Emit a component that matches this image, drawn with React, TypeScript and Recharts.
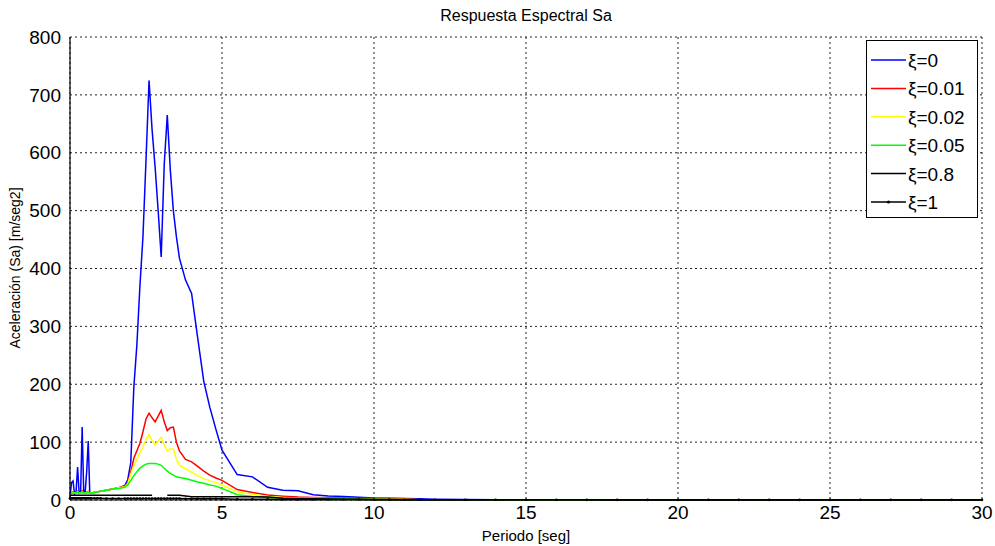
import React from 'react';
import { LineChart, Line, XAxis, YAxis, CartesianGrid, Legend } from 'recharts';

const periods = [0, 0.05, 0.1, 0.15, 0.2, 0.25, 0.3, 0.35, 0.4, 0.45, 0.5, 0.55, 0.6, 0.65, 0.7, 0.8, 0.9, 1.0, 1.2, 1.4, 1.6, 1.8, 1.9, 2.0, 2.1, 2.2, 2.3, 2.4, 2.5, 2.6, 2.7, 2.8, 2.9, 3.0, 3.1, 3.2, 3.3, 3.4, 3.5, 3.6, 3.8, 4.0, 4.2, 4.4, 4.6, 4.8, 5.0, 5.5, 6.0, 6.5, 7.0, 7.5, 8.0, 8.5, 9.0, 9.5, 10.0, 10.5, 11.0, 11.5, 12.0, 13, 14, 15, 16, 17, 18, 19, 20, 21, 22, 23, 24, 25, 26, 27, 28, 29, 30];

const sa0 = [5, 30, 33, 10, 14, 57, 12, 14, 126, 15, 14, 50, 102, 12, 12, 13, 14, 15, 17, 19, 21, 25, 35, 65, 195, 268, 370, 455, 587, 725, 640, 575, 500, 420, 580, 665, 570, 500, 455, 418, 380, 357, 280, 205, 160, 122, 86, 44, 40, 22, 17, 16, 9, 7, 6, 4.6, 3.5, 3, 2.5, 2, 1.5, 0.8, 0.6, 0.5, 0.4, 0.4, 0.3, 0.3, 0.3, 0.2, 0.2, 0.2, 0.2, 0.2, 0.1, 0.1, 0.1, 0.1, 0.1];
const sa001 = [8, 12, 14, 12, 13, 15, 12, 13, 16, 12, 12, 14, 15, 12, 12, 13, 14, 15, 17, 19, 21, 24, 30, 48, 72, 85, 98, 118, 140, 150, 142, 135, 145, 155, 135, 120, 125, 126, 100, 85, 70, 66, 58, 50, 43, 38, 34, 18, 13, 8.5, 6.5, 5, 4.5, 4, 3.5, 3, 3, 2.5, 2, 0.5, 0.3, 0.2, 0.2, 0.2, 0.1, 0.1, 0.1, 0.1, 0.1, 0.1, 0.1, 0.1, 0.1, 0.1, 0.1, 0.1, 0.1, 0.1, 0.1];
const sa002 = [8, 11, 13, 12, 12, 14, 12, 12, 14, 12, 12, 13, 14, 12, 12, 13, 14, 15, 17, 19, 21, 23, 28, 45, 60, 70, 82, 92, 105, 113, 103, 95, 102, 108, 95, 85, 88, 88, 70, 60, 54, 48, 42, 37, 33, 30, 26, 14, 10, 6, 4.5, 3.5, 3, 2.5, 2, 1.8, 1.5, 1.3, 1, 0.6, 0.4, 0.3, 0.2, 0.2, 0.1, 0.1, 0.1, 0.1, 0.1, 0.1, 0.1, 0.1, 0.1, 0.1, 0.1, 0.1, 0.1, 0.1, 0.1];
const sa005 = [10, 11, 12, 12, 12, 13, 12, 12, 13, 12, 12, 12, 13, 12, 12, 13, 14, 15, 17, 19, 20, 22, 26, 34, 42, 49, 55, 59, 62, 63, 63, 63, 62, 60, 55, 50, 46, 43, 40, 39, 37, 34, 31, 29, 26, 24, 20, 9, 6, 4.5, 3.5, 3, 2.5, 2, 2, 1.5, 1.2, 1, 0.8, 0.6, 0.4, 0.3, 0.2, 0.2, 0.1, 0.1, 0.1, 0.1, 0.1, 0.1, 0.1, 0.1, 0.1, 0.1, 0.1, 0.1, 0.1, 0.1, 0.1];
const sa08 = [8, 8, 8, 8, 8, 8, 8, 8, 8, 8, 8, 8, 8, 8, 8, 8, 8, 8, 8, 8, 8, 8, 8, 8, 8, 8, 8, 8, 8, 8, 8, null, null, null, null, 8, 8, 8, 8, 8, 7, 5.5, 5.5, 5.5, 5.5, 5.5, 5.5, 5.5, 5.5, 5, 3, 2.5, 2, 1.8, 1.5, 1.2, 1, 0.8, 0.6, 0.5, 0.5, 0.4, 0.4, 0.3, 0.3, 0.3, 0.2, 0.2, 0.2, 0.2, 0.2, 0.2, 0.2, 0.2, 0.2, 0.2, 0.2, 0.2, 0.2];
const sa1 = [3, 3, 3, 3, 3, 3, 3, 3, 3, 3, 3, 3, 3, 3, 3, 3, 3, 3, 2.5, 2.5, 2.5, 2.5, 2.5, 2.5, 2.5, 2.5, 2.5, 2.5, 2.5, 2.5, 2.5, 2.5, 2.5, 2.5, 2.5, 2.5, 2.5, 2.5, 2.5, 2.5, 2, 2, 2, 2, 2, 2, 2, 1.5, 1.5, 1.2, 1, 1, 1, 0.8, 0.8, 0.8, 0.6, 0.6, 0.5, 0.5, 0.5, 0.4, 0.4, 0.4, 0.3, 0.3, 0.3, 0.3, 0.3, 0.3, 0.3, 0.3, 0.3, 0.3, 0.3, 0.3, 0.3, 0.3, 0.3];

const seriesNames = ['ξ=0', 'ξ=0.01', 'ξ=0.02', 'ξ=0.05', 'ξ=0.8', 'ξ=1'];
const seriesColors = ['#0000FF', '#FF0000', '#FFFF00', '#00FF00', '#000000', '#000000'];
const seriesKeys = ['s0', 's001', 's002', 's005', 's08', 's1'];
const seriesValues = [sa0, sa001, sa002, sa005, sa08, sa1];

const xTicks = [0, 5, 10, 15, 20, 25, 30];
const yTicks = [0, 100, 200, 300, 400, 500, 600, 700, 800];

const data = periods.map((p, i) => {
  const row: any = { t: p };
  seriesKeys.forEach((k, j) => {
    row[k] = seriesValues[j][i];
  });
  return row;
});

const FONT = '"Liberation Sans", Arial, Helvetica, sans-serif';

const LegendBox = () => (
  <svg width={112} height={178} style={{ display: 'block' }}>
    <rect x={0.5} y={0.5} width={111} height={177} fill="#fff" stroke="#000" strokeWidth={1} />
    {seriesNames.map((n, i) => {
      const y = 20 + i * 28.4;
      return (
        <g key={n}>
          <line x1={5} x2={40} y1={y} y2={y} stroke={seriesColors[i]} strokeWidth={1.5} />
          {i === 5 && <circle cx={22.5} cy={y} r={1.6} fill="#000" />}
          <text x={42} y={y + 7} fontSize={19} fontFamily={FONT} fill="#000">{n}</text>
        </g>
      );
    })}
  </svg>
);

const YLabel = () => (
  <text x={20} y={268} transform="rotate(-90 20 268)" textAnchor="middle" fontSize={14} fontFamily={FONT} fill="#000">
    Aceleración (Sa) [m/seg2]
  </text>
);

export default function App() {
  return (
    <div style={{ position: 'absolute', left: 0, top: 0, width: 995, height: 546, background: '#fff', fontFamily: FONT }}>
      <div style={{ position: 'absolute', left: 70, top: 7, width: 912, textAlign: 'center', fontSize: 16, lineHeight: '18px', color: '#000' }}>
        Respuesta Espectral Sa
      </div>
      <LineChart width={995} height={546} data={data} margin={{ top: 37, right: 13, left: 0, bottom: 0 }}>
        <CartesianGrid stroke="#222" strokeDasharray="2 3" strokeWidth={1} />
        <XAxis
          dataKey="t"
          type="number"
          domain={[0, 30]}
          ticks={xTicks}
          height={46}
          axisLine={{ stroke: '#000', strokeWidth: 1.2 }}
          tickLine={false}
          tick={{ fill: '#000', fontSize: 19, fontFamily: FONT }}
          tickMargin={0}
          interval={0}
          label={{ value: 'Periodo [seg]', position: 'insideBottom', offset: 5, fontSize: 15, fill: '#000', fontFamily: FONT }}
        />
        <YAxis
          type="number"
          domain={[0, 800]}
          ticks={yTicks}
          width={70}
          axisLine={{ stroke: '#000', strokeWidth: 1.2 }}
          tickLine={false}
          tick={{ fill: '#000', fontSize: 19, fontFamily: FONT }}
          tickMargin={3}
          interval={0}
          label={{ content: () => <YLabel /> }}
        />
        {seriesKeys.map((k, i) => (
          <Line
            key={k}
            dataKey={k}
            name={seriesNames[i]}
            stroke={seriesColors[i]}
            strokeWidth={1.5}
            dot={i === 5 ? { r: 1.3, fill: '#000', stroke: '#000', strokeWidth: 0 } : false}
            activeDot={false}
            type="linear"
            isAnimationActive={false}
            connectNulls={false}
          />
        ))}
        <Legend
          layout="horizontal"
          verticalAlign="middle"
          align="center"
          wrapperStyle={{ position: 'absolute', top: 40, left: 866, width: 112, height: 178 }}
          content={() => <LegendBox />}
        />
      </LineChart>
    </div>
  );
}
